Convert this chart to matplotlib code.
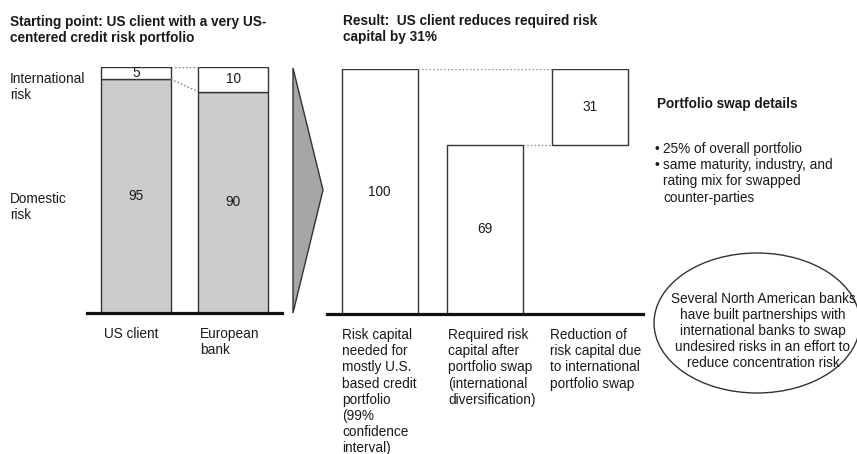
import matplotlib
matplotlib.use('Agg')
import matplotlib.pyplot as plt
from matplotlib.patches import Polygon, Ellipse

#%% DATA

left_cats = ['US client', 'European\nbank']
domestic = [95, 90]
international = [5, 10]

right_cats = ['Risk capital\nneeded for\nmostly U.S.\nbased credit\nportfolio\n(99%\nconfidence\ninterval)',
              'Required risk\ncapital after\nportfolio swap\n(international\ndiversification)',
              'Reduction of\nrisk capital due\nto international\nportfolio swap']
risk_before = 100
risk_after = 69
reduction = risk_before - risk_after

bullets = ['25% of overall portfolio',
           'same maturity, industry, and\nrating mix for swapped\ncounter-parties']

#%% STYLE

plt.rcParams['font.family'] = ['Liberation Sans', 'DejaVu Sans']
fs = 9.8
ls = 1.2
txt = '#1a1a1a'
edge = '#333333'
W, H = 857, 454
bw = 0.72

fig = plt.figure(figsize=(W / 100, H / 100), dpi=100)

# background axes in pixel units for text and decorations
bg = fig.add_axes([0, 0, 1, 1])
bg.set_xlim(0, W)
bg.set_ylim(H, 0)
bg.axis('off')


def px_axes(x0, x1, ybase, ytop):
    return fig.add_axes([x0 / W, (H - ybase) / H, (x1 - x0) / W, (ybase - ytop) / H])


def clean(ax):
    ax.set_facecolor('none')
    for s in ['top', 'left', 'right']:
        ax.spines[s].set_visible(False)
    ax.spines['bottom'].set_linewidth(2.3)
    ax.spines['bottom'].set_color('#111111')
    ax.set_xticks([])
    ax.set_yticks([])


#%% LEFT PANEL - STACKED BARS

axL = px_axes(87, 282, 313, 67)
clean(axL)
xl = list(range(len(left_cats)))
axL.bar(xl, domestic, width=bw, color='#cccccc', edgecolor=edge, linewidth=1)
axL.bar(xl, international, bottom=domestic, width=bw, color='white', edgecolor=edge, linewidth=1)
axL.set_xlim(-0.5, 1.5)
axL.set_ylim(0, 100)
for i in xl:
    axL.text(i, domestic[i] / 2, str(domestic[i]), ha='center', va='center', fontsize=fs, color=txt)
    axL.text(i, domestic[i] + international[i] / 2, str(international[i]),
             ha='center', va='center', fontsize=fs, color=txt)
tops = [d + n for d, n in zip(domestic, international)]
axL.plot([xl[0] + bw / 2, xl[1] - bw / 2], [tops[0], tops[1]], ls=':', color='#777777', lw=1)
axL.plot([xl[0] + bw / 2, xl[1] - bw / 2], [domestic[0], domestic[1]], ls=':', color='#777777', lw=1)

#%% RIGHT PANEL - WATERFALL

axR = px_axes(327, 643, 314, 69)
clean(axR)
vals = [risk_before, risk_after, reduction]
bottoms = [0, 0, risk_after]
xr = list(range(len(vals)))
axR.bar(xr, vals, bottom=bottoms, width=bw, color='white', edgecolor=edge, linewidth=1)
axR.set_xlim(-0.5, 2.5)
axR.set_ylim(0, 100)
for i in xr:
    axR.text(i, bottoms[i] + vals[i] / 2, str(vals[i]), ha='center', va='center', fontsize=fs, color=txt)
axR.plot([xr[0] + bw / 2, xr[2] - bw / 2], [risk_before, risk_before], ls=':', color='#888888', lw=1)
axR.plot([xr[1] + bw / 2, xr[2] - bw / 2], [risk_after, risk_after], ls=':', color='#888888', lw=1)

#%% TEXT AND DECORATIONS

bg.text(10, 15, 'Starting point: US client with a very US-\ncentered credit risk portfolio',
        fontsize=fs, fontweight='bold', color=txt, va='top', linespacing=ls)
bg.text(343, 14, 'Result:  US client reduces required risk\ncapital by 31%',
        fontsize=fs, fontweight='bold', color=txt, va='top', linespacing=ls)

bg.text(10, 72, 'International\nrisk', fontsize=fs, color=txt, va='top', linespacing=ls)
bg.text(10, 192, 'Domestic\nrisk', fontsize=fs, color=txt, va='top', linespacing=ls)

for x, lab in zip([104, 200], left_cats):
    bg.text(x, 327, lab, fontsize=fs, color=txt, va='top', linespacing=ls)
for x, lab in zip([342, 448, 550], right_cats):
    bg.text(x, 328, lab, fontsize=fs, color=txt, va='top', linespacing=ls)

# arrow between panels
bg.add_patch(Polygon([(293, 68), (323, 190), (293, 313)], closed=True,
                     facecolor='#a6a6a6', edgecolor=edge, linewidth=1))

bg.text(657, 97, 'Portfolio swap details', fontsize=fs, fontweight='bold', color=txt, va='top')
bg.text(655, 142, '\u2022\n\u2022', fontsize=fs, color=txt, va='top', linespacing=ls)
bg.text(663, 142, '\n'.join(bullets), fontsize=fs, color=txt, va='top', linespacing=ls)

bg.add_patch(Ellipse((757, 323), 206, 140, facecolor='none', edgecolor=edge, linewidth=1))
bg.text(763, 331, 'Several North American banks\nhave built partnerships with\ninternational banks to swap\n'
        'undesired risks in an effort to\nreduce concentration risk',
        fontsize=fs, color=txt, ha='center', va='center', multialignment='center', linespacing=ls)

fig.savefig('out.png', dpi=100)
